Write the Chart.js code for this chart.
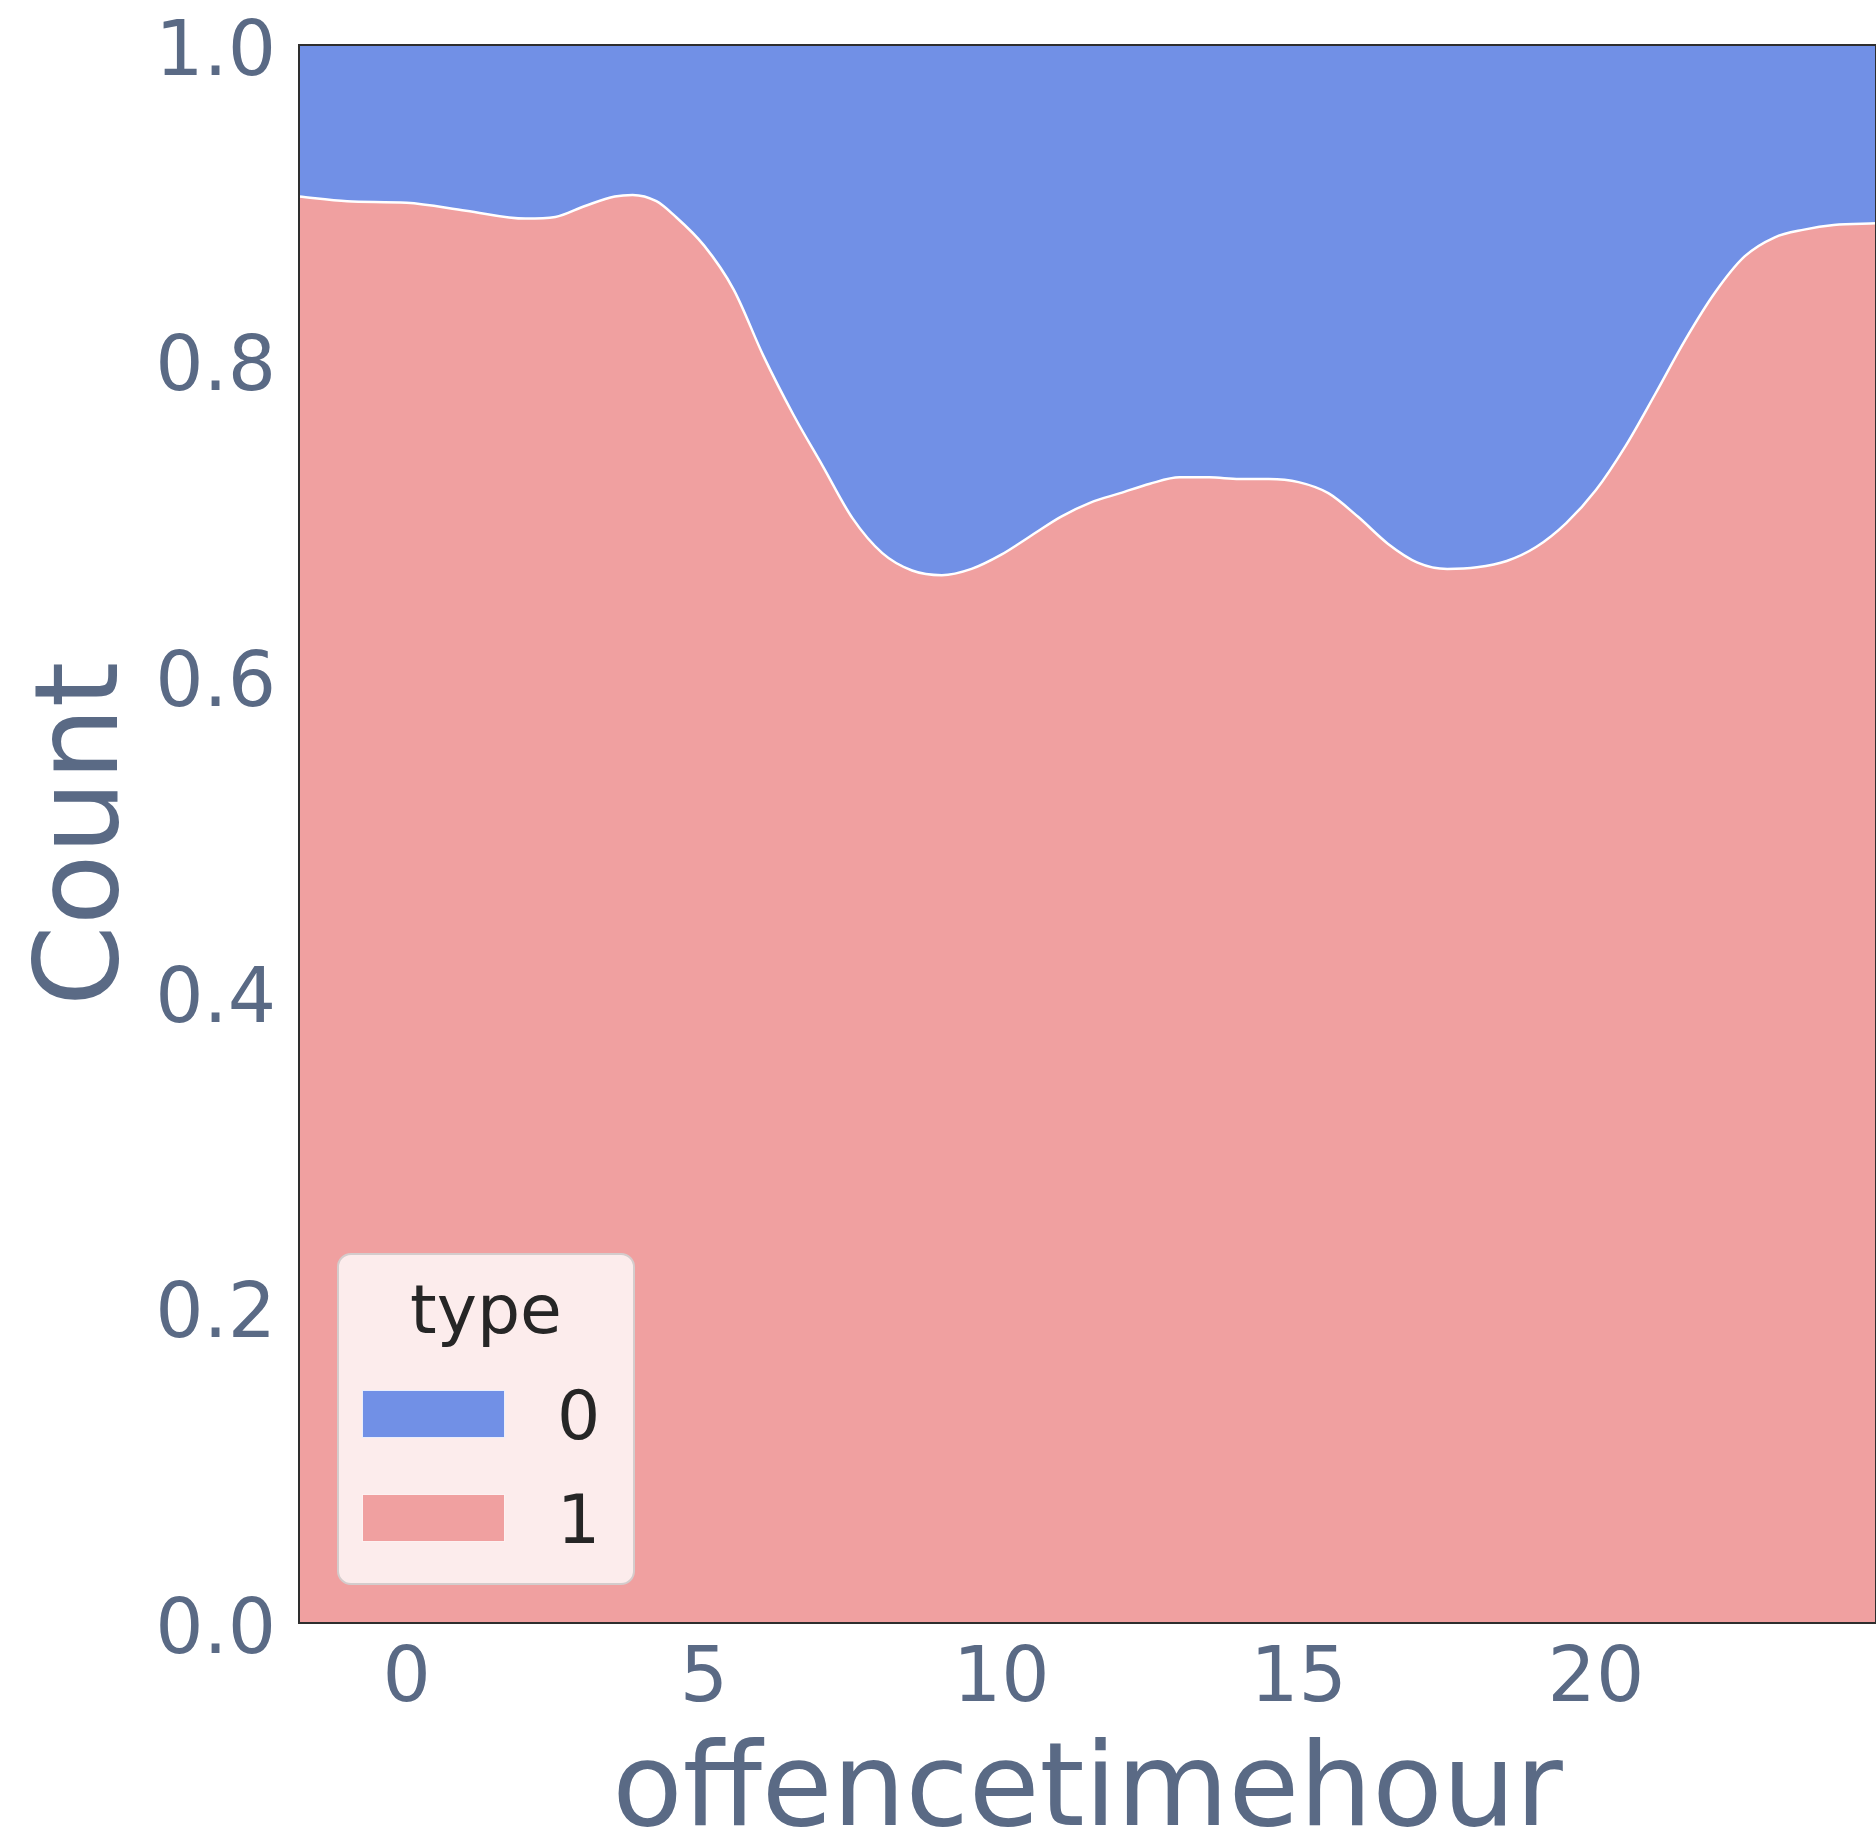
<!DOCTYPE html>
<html>
<head>
<meta charset="utf-8">
<script src="https://cdn.jsdelivr.net/npm/chart.js@4.4.1/dist/chart.umd.min.js"></script>
<style>
  html, body { margin: 0; padding: 0; background: #ffffff; }
  #wrap { position: relative; width: 1876px; height: 1834px; overflow: hidden; }
  #legend {
    position: absolute; left: 337px; top: 1253px; width: 298px; height: 332px;
    box-sizing: border-box; border: 2px solid #d4cccc; border-radius: 14px;
    background: rgba(255, 255, 255, 0.8);
    font-family: "DejaVu Sans", sans-serif; color: #262626;
  }
  #legend .title { position: absolute; left: 0; width: 100%; top: 21px; text-align: center; font-size: 68px; line-height: 68px; }
  #legend .patch { position: absolute; left: 23px; width: 143px; height: 48px; box-sizing: border-box; border: 1px solid rgba(255,255,255,0.85); }
  #legend .label { position: absolute; left: 218px; font-size: 68px; line-height: 68px; }
</style>
</head>
<body>
<div id="wrap">
  <canvas id="chart" width="1876" height="1834"></canvas>
  <div id="legend"></div>
</div>
<script>
const hours = [-1.81, -1, 0, 1, 2, 2.5, 3, 3.5, 3.8, 4.2, 4.5, 5, 5.5, 6, 6.5, 7, 7.5, 8, 8.5, 9,
  9.5, 10, 10.5, 11, 11.5, 12, 12.5, 13, 13.5, 14, 14.5, 15, 15.5, 16, 16.5, 17, 17.5, 18, 18.5, 19,
  19.5, 20, 20.5, 21, 21.5, 22, 22.5, 23, 23.5, 24, 24.71];
const share1 = [0.904, 0.901, 0.900, 0.895, 0.890, 0.891, 0.898, 0.904, 0.905, 0.901, 0.892, 0.873, 0.845, 0.803, 0.766, 0.733, 0.700, 0.678, 0.667, 0.664,
  0.668, 0.677, 0.689, 0.701, 0.710, 0.716, 0.722, 0.726, 0.726, 0.725, 0.725, 0.723, 0.716, 0.701, 0.684, 0.672, 0.668, 0.669, 0.673, 0.682,
  0.697, 0.718, 0.746, 0.779, 0.813, 0.843, 0.866, 0.878, 0.883, 0.886, 0.887];
const share0 = [0.096, 0.099, 0.100, 0.105, 0.110, 0.109, 0.102, 0.096, 0.095, 0.099, 0.108, 0.127, 0.155, 0.197, 0.234, 0.267, 0.300, 0.322, 0.333, 0.336,
  0.332, 0.323, 0.311, 0.299, 0.290, 0.284, 0.278, 0.274, 0.274, 0.275, 0.275, 0.277, 0.284, 0.299, 0.316, 0.328, 0.332, 0.331, 0.327, 0.318,
  0.303, 0.282, 0.254, 0.221, 0.187, 0.157, 0.134, 0.122, 0.117, 0.114, 0.113];
const xTicks = [0, 5, 10, 15, 20];
const yTicks = [0, 0.2, 0.4, 0.6, 0.8, 1.0];
const typeLabels = ["0", "1"];
const typeColors = ["#7190e6", "#f0a0a0"];

const tickColor = "#5a6a85";
const fontFamily = '"DejaVu Sans", sans-serif';

const framePlugin = {
  id: "frame",
  afterDatasetsDraw(chart) {
    const { ctx, chartArea } = chart;
    ctx.save();
    ctx.strokeStyle = "#2e2e2e";
    ctx.lineWidth = 2;
    ctx.strokeRect(chartArea.left, chartArea.top, chartArea.right - chartArea.left, chartArea.bottom - chartArea.top);
    ctx.restore();
  }
};

const toPoints = values => values.map((v, i) => ({ x: hours[i], y: v }));

const chart = new Chart(document.getElementById("chart"), {
  type: "line",
  data: {
    datasets: [
      {
        label: typeLabels[1],
        data: toPoints(share1),
        borderColor: "#ffffff",
        borderWidth: 2.5,
        backgroundColor: typeColors[1],
        fill: "origin",
        pointRadius: 0,
        cubicInterpolationMode: "monotone"
      },
      {
        label: typeLabels[0],
        data: toPoints(share0),
        borderWidth: 0,
        borderColor: typeColors[0],
        backgroundColor: typeColors[0],
        fill: "-1",
        pointRadius: 0,
        cubicInterpolationMode: "monotone"
      }
    ]
  },
  options: {
    responsive: false,
    animation: false,
    layout: { padding: { top: 45, right: 0, left: 0, bottom: 0 } },
    plugins: {
      legend: { display: false },
      tooltip: { enabled: false }
    },
    scales: {
      x: {
        type: "linear",
        min: hours[0],
        max: hours[hours.length - 1],
        grid: { display: false, drawTicks: false },
        border: { display: false },
        afterBuildTicks: scale => { scale.ticks = xTicks.map(v => ({ value: v })); },
        afterFit: scale => {
          scale.height = 211;
          scale.paddingLeft = 0;
          scale.paddingRight = 0;
        },
        ticks: {
          color: tickColor,
          padding: 20,
          font: { family: fontFamily, size: 76, lineHeight: 1 }
        },
        title: {
          display: true,
          text: "offencetimehour",
          color: tickColor,
          padding: 0,
          font: { family: fontFamily, size: 115, lineHeight: 0.68 }
        }
      },
      y: {
        stacked: true,
        min: 0,
        max: 1,
        grid: { display: false, drawTicks: false },
        border: { display: false },
        afterBuildTicks: scale => { scale.ticks = yTicks.map(v => ({ value: v })); },
        afterFit: scale => {
          scale.width = 299;
          scale.paddingTop = 0;
          scale.paddingBottom = 0;
        },
        ticks: {
          color: tickColor,
          padding: 23,
          labelOffset: 10,
          callback: v => Number(v).toFixed(1),
          font: { family: fontFamily, size: 76, lineHeight: 1 }
        },
        title: {
          display: true,
          text: "Count",
          color: tickColor,
          padding: { top: 29, bottom: 0 },
          font: { family: fontFamily, size: 116, lineHeight: 1 }
        }
      }
    }
  },
  plugins: [framePlugin]
});

// legend drawn as html, fed from the same labels and colours
const legendEl = document.getElementById("legend");
legendEl.innerHTML = `<div class="title">type</div>` + typeLabels.map((label, i) => `
  <div class="patch" style="top:${135 + i * 104}px;background:${typeColors[i]}"></div>
  <div class="label" style="top:${127 + i * 104}px">${label}</div>
`).join("");
</script>
</body>
</html>
